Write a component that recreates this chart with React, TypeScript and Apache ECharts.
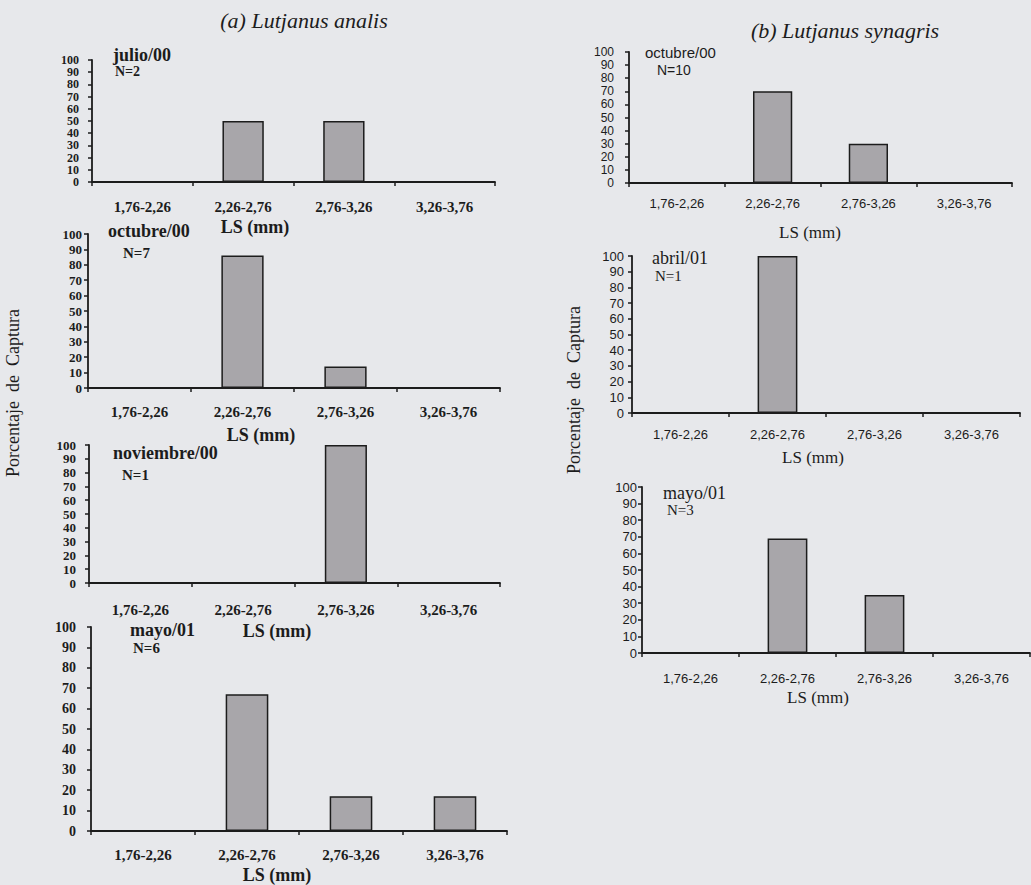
import React, { useEffect, useRef } from 'react';
import * as echarts from 'echarts';

// ---------- data ----------
const categories = ['1,76-2,26', '2,26-2,76', '2,76-3,26', '3,26-3,76'];

const analisJulio00 = [0, 50, 50, 0];
const analisOctubre00 = [0, 86, 14, 0];
const analisNoviembre00 = [0, 0, 100, 0];
const analisMayo01 = [0, 67, 17, 17];
const synagrisOctubre00 = [0, 70, 30, 0];
const synagrisAbril01 = [0, 100, 0, 0];
const synagrisMayo01 = [0, 69, 35, 0];

const panelValues = [
  analisJulio00,
  analisOctubre00,
  analisNoviembre00,
  analisMayo01,
  synagrisOctubre00,
  synagrisAbril01,
  synagrisMayo01,
];
const panelDates = ['julio/00', 'octubre/00', 'noviembre/00', 'mayo/01', 'octubre/00', 'abril/01', 'mayo/01'];
const panelN = ['N=2', 'N=7', 'N=1', 'N=6', 'N=10', 'N=1', 'N=3'];
const speciesTitles = ['(a) Lutjanus analis', '(b) Lutjanus synagris'];
const xAxisTitle = 'LS (mm)';
const yAxisTitle = 'Porcentaje\u00a0 de\u00a0 Captura';
const yMin = 0;
const yMax = 100;
const yStep = 10;

// ---------- layout / styles ----------
const SERIF = "'Liberation Serif', 'DejaVu Serif', serif";
const SANS = "'Liberation Sans', 'DejaVu Sans', sans-serif";
const INK = '#1c1c1c';

type Layout = {
  l: number; r: number; t: number; b: number;
  ym: number; xm: number;
  tf: string; tw: string; ts: number; cs: number;
  date: [number, number]; n: [number, number];
  df: string; dw: string; ds: number; nf: string; ns: number;
  ls: [number, number]; lsw: string; lss: number;
};

const leftCommon = { tf: SERIF, tw: 'bold', cs: 15, df: SERIF, dw: 'bold', nf: SERIF, lsw: 'bold', lss: 18 };
const layouts: Layout[] = [
  { ...leftCommon, ts: 12, ds: 18, ns: 14, l: 92, r: 495, t: 60, b: 182, ym: 13, xm: 17, date: [113, 55], n: [115, 71], ls: [255, 227] },
  { ...leftCommon, ts: 13, ds: 18, ns: 15, l: 88, r: 500, t: 234, b: 388, ym: 6, xm: 16, date: [108, 231], n: [123, 253], ls: [261, 435] },
  { ...leftCommon, ts: 13, ds: 18, ns: 15, l: 89, r: 500, t: 445, b: 583, ym: 13, xm: 19, date: [113, 453], n: [122, 475], ls: [277, 631] },
  { ...leftCommon, ts: 14, ds: 18, ns: 15, l: 91, r: 507, t: 627, b: 831, ym: 15, xm: 16, date: [130, 630], n: [133, 648], ls: [277, 875] },
  { l: 629, r: 1012, t: 52, b: 183, ym: 15, xm: 14, tf: SANS, tw: 'normal', ts: 12, cs: 13, date: [645, 52], n: [657, 70], df: SANS, dw: 'normal', ds: 15, nf: SANS, ns: 14, ls: [810, 232], lsw: 'normal', lss: 17 },
  { l: 632, r: 1020, t: 256, b: 413, ym: 8, xm: 15, tf: SANS, tw: 'normal', ts: 13, cs: 13, date: [652, 258], n: [655, 276], df: SERIF, dw: 'normal', ds: 18, nf: SERIF, ns: 15, ls: [813, 457], lsw: 'normal', lss: 17 },
  { l: 642, r: 1030, t: 487, b: 653, ym: 5, xm: 19, tf: SANS, tw: 'normal', ts: 13, cs: 13, date: [663, 493], n: [667, 510], df: SERIF, dw: 'normal', ds: 18, nf: SERIF, ns: 15, ls: [818, 697], lsw: 'normal', lss: 17 },
];

function txt(x: number, y: number, text: string, size: number, family: string, weight: string, align = 'left', extra: any = {}) {
  const { italic, ...rest } = extra;
  return {
    type: 'text',
    x,
    y,
    silent: true,
    ...rest,
    style: {
      text,
      fontSize: size,
      fontFamily: family,
      fontWeight: weight,
      fontStyle: italic ? 'italic' : 'normal',
      fill: INK,
      textAlign: align,
      textVerticalAlign: 'middle',
    },
  };
}

export default function App() {
  const ref = useRef<HTMLDivElement>(null);

  useEffect(() => {
    if (!ref.current) return;
    const chart = echarts.init(ref.current, undefined, { renderer: 'svg' });

    const grid = layouts.map((p) => ({ left: p.l, top: p.t, width: p.r - p.l, height: p.b - p.t, containLabel: false }));

    const xAxis = layouts.map((p, i) => ({
      type: 'category',
      gridIndex: i,
      data: categories,
      axisLine: { show: true, lineStyle: { color: INK, width: 1.8 } },
      axisTick: { show: true, length: 4, alignWithLabel: false, lineStyle: { color: INK, width: 1.5 } },
      axisLabel: { interval: 0, margin: p.xm, fontSize: p.cs, fontFamily: p.tf, fontWeight: p.tw, color: INK },
      splitLine: { show: false },
    }));

    const yAxis = layouts.map((p, i) => ({
      type: 'value',
      gridIndex: i,
      min: yMin,
      max: yMax,
      interval: yStep,
      axisLine: { show: true, lineStyle: { color: INK, width: 1.8 } },
      axisTick: { show: true, length: 4, lineStyle: { color: INK, width: 1.5 } },
      axisLabel: {
        margin: p.ym,
        fontSize: p.ts,
        lineHeight: p.ts,
        fontFamily: p.tf,
        fontWeight: p.tw,
        color: INK,
        showMinLabel: true,
        showMaxLabel: true,
        hideOverlap: false,
      },
      splitLine: { show: false },
    }));

    const series = panelValues.map((vals, i) => ({
      type: 'bar',
      xAxisIndex: i,
      yAxisIndex: i,
      data: vals,
      barWidth: '41%',
      silent: true,
      itemStyle: { color: '#a8a6aa', borderColor: INK, borderWidth: 1.5 },
    }));

    const graphic: any[] = [];
    graphic.push(txt(304, 20, speciesTitles[0], 22, SERIF, 'normal', 'center', { italic: true }));
    graphic.push(txt(845, 30, speciesTitles[1], 22, SERIF, 'normal', 'center', { italic: true }));
    graphic.push(txt(13, 393, yAxisTitle, 18, SERIF, 'normal', 'center', { rotation: Math.PI / 2 }));
    graphic.push(txt(574, 390, yAxisTitle, 18, SERIF, 'normal', 'center', { rotation: Math.PI / 2 }));
    layouts.forEach((p, i) => {
      graphic.push(txt(p.date[0], p.date[1], panelDates[i], p.ds, p.df, p.dw));
      graphic.push(txt(p.n[0], p.n[1], panelN[i], p.ns, p.nf, p.dw));
      graphic.push(txt(p.ls[0], p.ls[1], xAxisTitle, p.lss, SERIF, p.lsw, 'center'));
    });

    chart.setOption({
      animation: false,
      backgroundColor: '#e7e8eb',
      grid,
      xAxis,
      yAxis,
      series,
      graphic,
    });

    return () => chart.dispose();
  }, []);

  return <div ref={ref} style={{ position: 'absolute', left: 0, top: 0, width: 1031, height: 885 }} />;
}
